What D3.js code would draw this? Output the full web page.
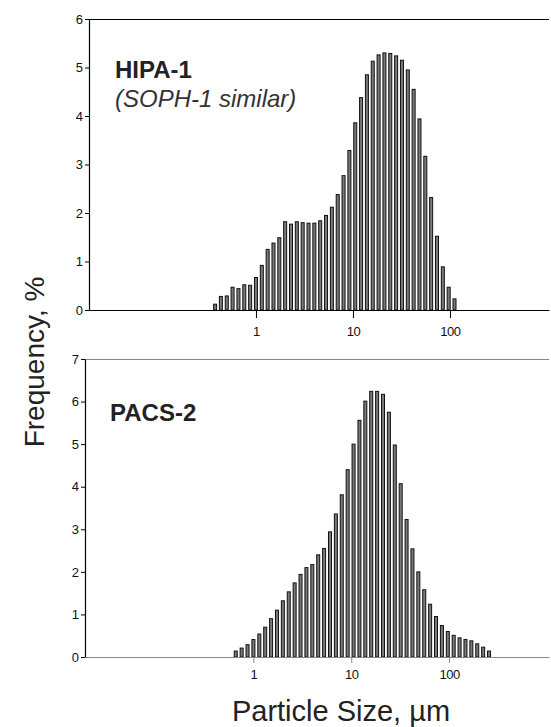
<!DOCTYPE html>
<html lang="en">
<head>
<meta charset="utf-8">
<script src="https://d3js.org/d3.v7.min.js"></script>
<style>
  body { margin: 0; background: white; }
  svg { font-family: 'Liberation Sans', Arial, sans-serif; display: block; }
  .bar { fill: #7a7a7a; stroke: #111; stroke-width: 1px; }
  .axis text { font-size: 13px; fill: #111; }
</style>
</head>
<body>
<svg width="551" height="727"></svg>
<script>
  // size classes (µm), 2^(1/5) series
  const sizesTop = [0.379, 0.435, 0.5, 0.574, 0.660, 0.758, 0.871, 1, 1.149, 1.320, 1.516, 1.741, 2, 2.297,
    2.639, 3.031, 3.482, 4, 4.595, 5.278, 6.063, 6.964, 8, 9.190, 10.56, 12.13, 13.93, 16, 18.38, 21.11,
    24.25, 27.86, 32, 36.76, 42.22, 48.50, 55.72, 64, 73.52, 84.45, 97.01, 111.4];
  const hipaFreq = [0.12, 0.28, 0.29, 0.47, 0.44, 0.52, 0.51, 0.67, 0.92, 1.25, 1.38, 1.49, 1.82, 1.77,
    1.82, 1.80, 1.79, 1.79, 1.84, 1.95, 2.12, 2.38, 2.77, 3.29, 3.86, 4.38, 4.85, 5.13, 5.26, 5.30,
    5.29, 5.24, 5.15, 4.95, 4.55, 3.94, 3.17, 2.32, 1.52, 0.89, 0.47, 0.23];

  const sizesBottom = [0.660, 0.758, 0.871, 1, 1.149, 1.320, 1.516, 1.741, 2, 2.297, 2.639, 3.031, 3.482, 4,
    4.595, 5.278, 6.063, 6.964, 8, 9.190, 10.56, 12.13, 13.93, 16, 18.38, 21.11, 24.25, 27.86, 32, 36.76,
    42.22, 48.50, 55.72, 64, 73.52, 84.45, 97.01, 111.4, 128, 147.0, 168.9, 194.0, 222.9, 256];
  const pacsFreq = [0.14, 0.21, 0.29, 0.41, 0.54, 0.70, 0.90, 1.10, 1.32, 1.53, 1.74, 1.94, 2.10, 2.17,
    2.40, 2.55, 2.94, 3.36, 3.81, 4.40, 5.00, 5.56, 6.01, 6.24, 6.24, 6.17, 5.75, 4.98, 4.07, 3.23,
    2.54, 2.00, 1.58, 1.24, 0.95, 0.74, 0.60, 0.51, 0.45, 0.41, 0.38, 0.31, 0.23, 0.14];

  const xTicks = [1, 10, 100];
  const xDomain = [0.019, 1050];

  const svg = d3.select("svg");

  const drawPanel = function (opt) {
    const x = d3.scaleLog().domain(xDomain).range([opt.left, opt.right]);
    const y = d3.scaleLinear().domain([0, opt.yMax]).range([opt.bottom, opt.top]);
    const g = svg.append("g");

    // frame top line
    g.append("line")
      .attr("x1", opt.left).attr("x2", opt.right)
      .attr("y1", opt.top + 0.5).attr("y2", opt.top + 0.5)
      .attr("stroke", opt.frameColor).attr("stroke-width", 1.2);

    const data = opt.sizes.map((s, i) => ({ s: s, f: opt.freq[i] }));
    g.selectAll("rect.bar")
      .data(data)
      .enter().append("rect")
      .attr("class", "bar")
      .attr("x", d => x(d.s) - 1.5)
      .attr("width", 3)
      .attr("y", d => y(d.f))
      .attr("height", d => opt.bottom - y(d.f));

    const xAxis = d3.axisBottom(x).tickValues(xTicks).tickFormat(d3.format("d"))
      .tickSize(opt.xTickSize).tickSizeOuter(0);
    const gx = g.append("g").attr("class", "axis")
      .attr("transform", "translate(0," + opt.bottom + ")")
      .call(xAxis);
    gx.select(".domain").attr("stroke", opt.frameColor).attr("stroke-width", 1.2);
    gx.selectAll(".tick line").attr("stroke", opt.frameColor);
    gx.selectAll("text").attr("dy", opt.xLabelDy).style("letter-spacing", "-0.5px");

    const yAxis = d3.axisLeft(y).ticks(opt.yMax).tickFormat(d3.format("d"))
      .tickSize(4).tickSizeOuter(0);
    const gy = g.append("g").attr("class", "axis")
      .attr("transform", "translate(" + opt.left + ",0)")
      .call(yAxis);
    gy.select(".domain").attr("stroke", "#000").attr("stroke-width", 1.2);
    gy.selectAll(".tick line").attr("stroke", "#000");
    gy.selectAll("text").attr("x", -6);

    g.append("text")
      .attr("x", opt.titleX).attr("y", opt.titleY)
      .attr("font-size", 24).attr("font-weight", "bold").attr("fill", "#222")
      .text(opt.title);
    if (opt.subtitle) {
      g.append("text")
        .attr("x", opt.titleX).attr("y", opt.titleY + 29)
        .attr("font-size", 24).attr("font-style", "italic").attr("fill", "#333")
        .text(opt.subtitle);
    }
  };

  drawPanel({
    left: 89, right: 549, top: 19, bottom: 310, yMax: 6,
    sizes: sizesTop, freq: hipaFreq, frameColor: "#000", xTickSize: 8, xLabelDy: "1.15em",
    title: "HIPA-1", subtitle: "(SOPH-1 similar)", titleX: 115, titleY: 78
  });

  drawPanel({
    left: 85, right: 549, top: 359, bottom: 657, yMax: 7,
    sizes: sizesBottom, freq: pacsFreq, frameColor: "#888", xTickSize: 6, xLabelDy: "1em",
    title: "PACS-2", subtitle: null, titleX: 110, titleY: 421
  });

  svg.append("text")
    .attr("transform", "translate(44,362) rotate(-90)")
    .attr("text-anchor", "middle")
    .attr("font-size", 28).attr("fill", "#222")
    .text("Frequency, %");

  svg.append("text")
    .attr("x", 341).attr("y", 721)
    .attr("text-anchor", "middle")
    .attr("font-size", 29).attr("fill", "#222")
    .text("Particle Size, µm");
</script>
</body>
</html>
